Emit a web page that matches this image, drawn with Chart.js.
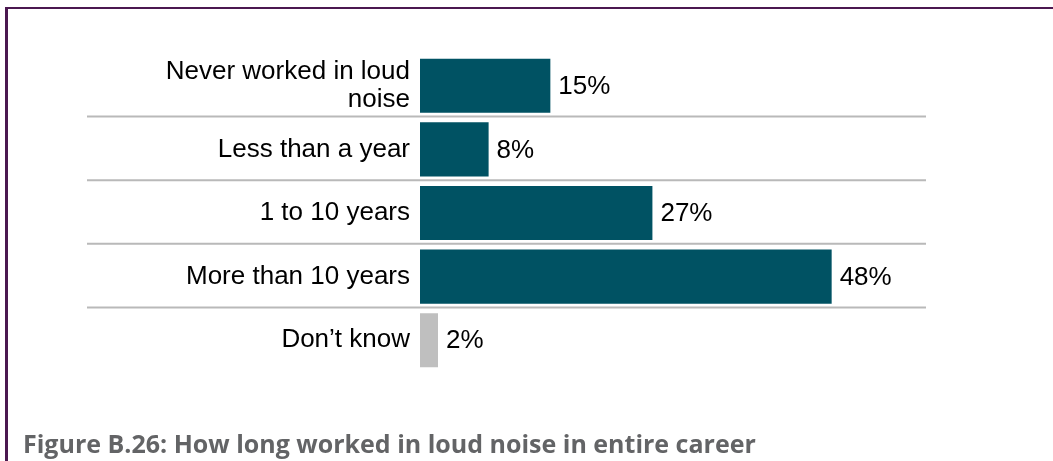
<!DOCTYPE html>
<html lang="en">
<head>
<meta charset="UTF-8">
<title>Figure B.26</title>
<script src="https://cdn.jsdelivr.net/npm/chart.js@4"></script>
<style>
  html, body { margin: 0; padding: 0; background: #fff; }
  body { width: 1053px; height: 461px; position: relative; overflow: hidden; }
  .frame {
    position: absolute; left: 5px; top: 7px; width: 1200px; height: 700px;
    border-top: 2px solid #4b1850; border-left: 3px solid #4b1850;
  }
  #chart-wrap { position: absolute; left: 0; top: 0; width: 1053px; height: 461px; }
  .caption {
    position: absolute; left: 23px; top: 425px;
    font-family: "Open Sans", sans-serif; font-weight: 700; font-size: 25px;
    color: #636466; white-space: nowrap; line-height: 36px;
  }
</style>
</head>
<body>
<div class="frame"></div>
<div id="chart-wrap"><canvas id="chart" width="1053" height="461"></canvas></div>
<div class="caption">Figure B.26: How long worked in loud noise in entire career</div>
<script>
// Données du graphique
const categories = [
  ['Never worked in loud', 'noise'],
  'Less than a year',
  '1 to 10 years',
  'More than 10 years',
  'Don\u2019t know'
];
const values = [15.2, 8, 27.1, 48, 2.1];
const barColors = ['#005263', '#005263', '#005263', '#005263', '#bfbfbf'];

const labelFont = { family: '"Liberation Sans", Arial, sans-serif', size: 26 };

// Lignes de séparation entre les catégories
const separatorPlugin = {
  id: 'separators',
  beforeDatasetsDraw(chart) {
    const { ctx, chartArea, scales } = chart;
    const y = scales.y;
    ctx.save();
    ctx.strokeStyle = '#b9b9b9';
    ctx.lineWidth = 2;
    for (let i = 0; i < categories.length - 1; i++) {
      const py = (y.getPixelForValue(i) + y.getPixelForValue(i + 1)) / 2 - 1;
      ctx.beginPath();
      ctx.moveTo(87, py);
      ctx.lineTo(chartArea.right, py);
      ctx.stroke();
    }
    ctx.restore();
  }
};

// Étiquettes de valeur au bout des barres
const valueLabelPlugin = {
  id: 'valueLabels',
  afterDatasetsDraw(chart) {
    const { ctx } = chart;
    const meta = chart.getDatasetMeta(0);
    ctx.save();
    ctx.font = `${labelFont.size}px ${labelFont.family}`;
    ctx.fillStyle = '#000';
    ctx.textAlign = 'left';
    ctx.textBaseline = 'middle';
    meta.data.forEach((bar, i) => {
      ctx.fillText(Math.round(values[i]) + '%', bar.x + 8, bar.y + 1);
    });
    ctx.restore();
  }
};

new Chart(document.getElementById('chart'), {
  type: 'bar',
  data: {
    labels: categories,
    datasets: [{
      data: values,
      backgroundColor: barColors,
      borderWidth: 0,
      barPercentage: 0.85,
      categoryPercentage: 1
    }]
  },
  options: {
    indexAxis: 'y',
    responsive: false,
    animation: false,
    layout: { padding: { left: 0, right: 127, top: 54, bottom: 89 } },
    plugins: { legend: { display: false }, tooltip: { enabled: false } },
    scales: {
      x: { display: false, min: 0, max: 59 },
      y: {
        grid: { display: false, drawTicks: false },
        border: { display: false },
        ticks: {
          color: '#000',
          font: { ...labelFont, lineHeight: 1.1 },
          padding: 10
        },
        afterFit(scale) { scale.width = 420; }
      }
    }
  },
  plugins: [separatorPlugin, valueLabelPlugin]
});
</script>
</body>
</html>
